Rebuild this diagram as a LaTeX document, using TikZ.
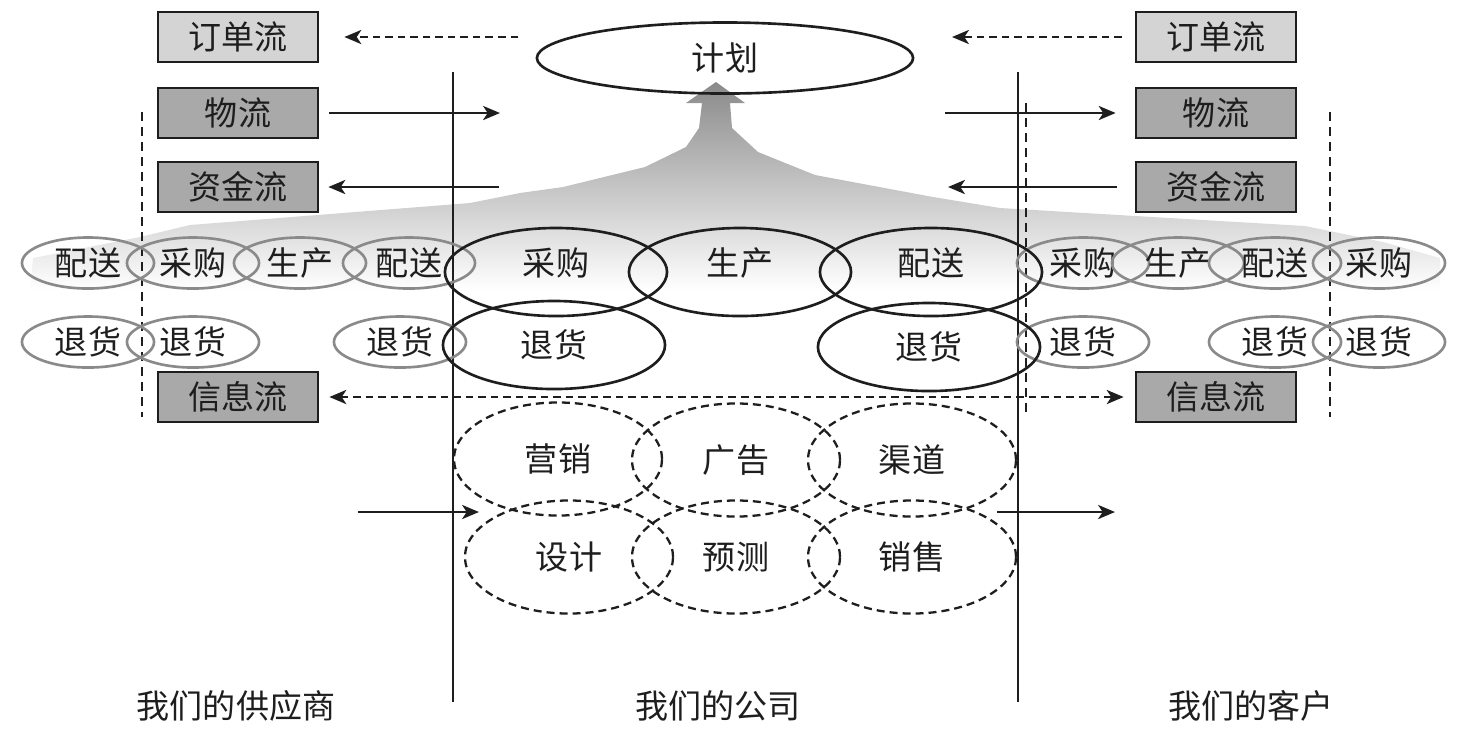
\documentclass[tikz,border=0pt]{standalone}
\usepackage{fontspec}
\newfontfamily\cjk{Noto Sans CJK SC}
\usetikzlibrary{shapes.geometric,arrows.meta,positioning}
\definecolor{boxlight}{HTML}{D4D4D4}
\definecolor{boxdark}{HTML}{A9A9A9}
\definecolor{ringgray}{HTML}{8A8A8A}
\definecolor{inkdark}{HTML}{1E1E1E}

\tikzset{
  cnfont/.style={font=\cjk\fontsize{9.4}{11}\selectfont, text=inkdark},
  flowbox/.style={cnfont, draw=inkdark, line width=0.75pt, minimum width=1.6cm, minimum height=0.5cm, inner sep=0pt},
  orderbox/.style={flowbox, fill=boxlight},
  goodsbox/.style={flowbox, fill=boxdark},
  smallring/.style={cnfont, ellipse, draw=ringgray, line width=0.75pt, minimum width=1.32cm, minimum height=0.51cm, inner sep=0pt},
  bigring/.style={cnfont, ellipse, draw=inkdark, line width=0.75pt, minimum width=2.22cm, minimum height=0.88cm, inner sep=0pt},
  dashring/.style={cnfont, ellipse, draw=inkdark, dash pattern=on 0.08cm off 0.05cm, line width=0.65pt, minimum width=2.08cm, minimum height=1.13cm, inner sep=0pt},
  flowarrow/.style={draw=inkdark, line width=0.75pt, -{Stealth[length=4.8pt,width=4pt,inset=1.3pt]}},
  dasharrow/.style={flowarrow, dash pattern=on 0.075cm off 0.05cm},
  divider/.style={draw=inkdark, line width=0.75pt},
  guideline/.style={draw=inkdark, line width=0.75pt, dash pattern=on 0.09cm off 0.06cm},
}

\begin{document}
\begin{tikzpicture}[x=0.01cm, y=-0.01cm]
  \useasboundingbox (0,0) rectangle (1470,744);

  % shaded funnel rising to the plan
  \shade[top color=gray!92, middle color=gray!56, bottom color=white]
    (30,290) -- (33,258) -- (140,237) -- (190,225) -- (470,203) -- (520,193)
    -- (563,187) -- (645,167) -- (686,147) -- (699,128) -- (702,103) -- (686,103)
    -- (716,82) -- (745,103) -- (730,103) -- (732,128) -- (758,152) -- (815,175)
    -- (933,197) -- (1000,208) -- (1305,226) -- (1383,242) -- (1440,258)
    -- (1440,290) -- cycle;

  \node[ellipse, cnfont, draw=inkdark, line width=0.75pt, minimum width=3.76cm,
        minimum height=0.71cm, inner sep=0pt] (plan) at (725,58) {计划};

  % company borders
  \coordinate (divLt) at (453,72);
  \coordinate (divLb) at (453,702);
  \coordinate (divRt) at (1018,72);
  \coordinate (divRb) at (1018,702);
  \draw[divider] (divLt) -- (divLb);
  \draw[divider] (divRt) -- (divRb);

  % dashed guides
  \coordinate (guideAt) at (142,112);
  \coordinate (guideAb) at (142,417);
  \coordinate (guideBt) at (1026,103);
  \coordinate (guideBb) at (1026,417);
  \coordinate (guideCt) at (1330,112);
  \coordinate (guideCb) at (1330,417);
  \draw[guideline] (guideAt) -- (guideAb);
  \draw[guideline] (guideBt) -- (guideBb);
  \draw[guideline] (guideCt) -- (guideCb);

  % supplier side
  \foreach \nm/\x/\txt in {supA/88/配送, supB/193/采购, supC/300/生产, supD/409/配送}
    \node[smallring] (\nm) at (\x,263) {\txt};
  \foreach \nm/\x in {supRa/88, supRb/193, supRc/400}
    \node[smallring] (\nm) at (\x,342) {退货};

  % customer side
  \foreach \nm/\x/\txt in {cusA/1083/采购, cusB/1178/生产, cusC/1275/配送, cusD/1379/采购}
    \node[smallring] (\nm) at (\x,263) {\txt};
  \foreach \nm/\x in {cusRa/1083, cusRb/1275, cusRc/1379}
    \node[smallring] (\nm) at (\x,342) {退货};

  % company
  \node[bigring, text height=0.3cm, text depth=0.23cm] (buy) at (556,272) {采购};
  \node[bigring, text height=0.3cm, text depth=0.23cm] (make) at (740,272) {生产};
  \node[bigring, text height=0.3cm, text depth=0.23cm] (ship) at (931,272) {配送};
  \node[bigring] (retL) at (554,345) {退货};
  \node[bigring] (retR) at (929,347) {退货};

  \node[dashring] (mkt) at (558,459) {营销};
  \node[dashring] (adv) at (736,460) {广告};
  \node[dashring] (chan) at (912,460) {渠道};
  \node[dashring] (dsgn) at (569,557) {设计};
  \node[dashring] (fcst) at (736,557) {预测};
  \node[dashring] (sale) at (912,557) {销售};

  % flows
  \node[orderbox] (ordL) at (238,37) {订单流};
  \node[goodsbox] (goodsL) at (238,113) {物流};
  \node[goodsbox] (cashL) at (238,187) {资金流};
  \node[goodsbox] (infoL) at (238,397) {信息流};
  \node[orderbox] (ordR) at (1216,37) {订单流};
  \node[goodsbox] (goodsR) at (1216,113) {物流};
  \node[goodsbox] (cashR) at (1216,187) {资金流};
  \node[goodsbox] (infoR) at (1216,397) {信息流};

  \coordinate (ordLtail) at (518,37);
  \coordinate (ordRtip) at (952,37);
  \coordinate (goodsLtip) at (500,113);
  \coordinate (goodsRtail) at (945,113);
  \coordinate (cashLtail) at (499,187);
  \coordinate (cashRtip) at (948,187);
  \coordinate (inTail) at (358,512);
  \coordinate (inTip) at (479,512);
  \coordinate (outTail) at (997,512);
  \coordinate (outTip) at (1115,512);

  \draw[dasharrow, shorten >=0.25cm] (ordLtail) -- (ordL.east);
  \draw[dasharrow, shorten <=0.13cm] (ordR.west) -- (ordRtip);
  \draw[flowarrow, shorten <=0.1cm] (goodsL.east) -- (goodsLtip);
  \draw[flowarrow, shorten >=0.19cm] (goodsRtail) -- (goodsR.west);
  \draw[flowarrow, shorten >=0.09cm] (cashLtail) -- (cashL.east);
  \draw[flowarrow, shorten <=0.18cm] (cashR.west) -- (cashRtip);
  \draw[dasharrow, {Stealth[length=4.8pt,width=4pt,inset=1.3pt]}-{Stealth[length=4.8pt,width=4pt,inset=1.3pt]},
        shorten <=0.1cm, shorten >=0.11cm] (infoL.east) -- (infoR.west);
  \draw[flowarrow] (inTail) -- (inTip);
  \draw[flowarrow] (outTail) -- (outTip);

  % parties
  \node[cnfont] (supplier) at (236,706) {我们的供应商};
  \node[cnfont] (company) at (718,706) {我们的公司};
  \node[cnfont] (customer) at (1251,706) {我们的客户};
\end{tikzpicture}
\end{document}
